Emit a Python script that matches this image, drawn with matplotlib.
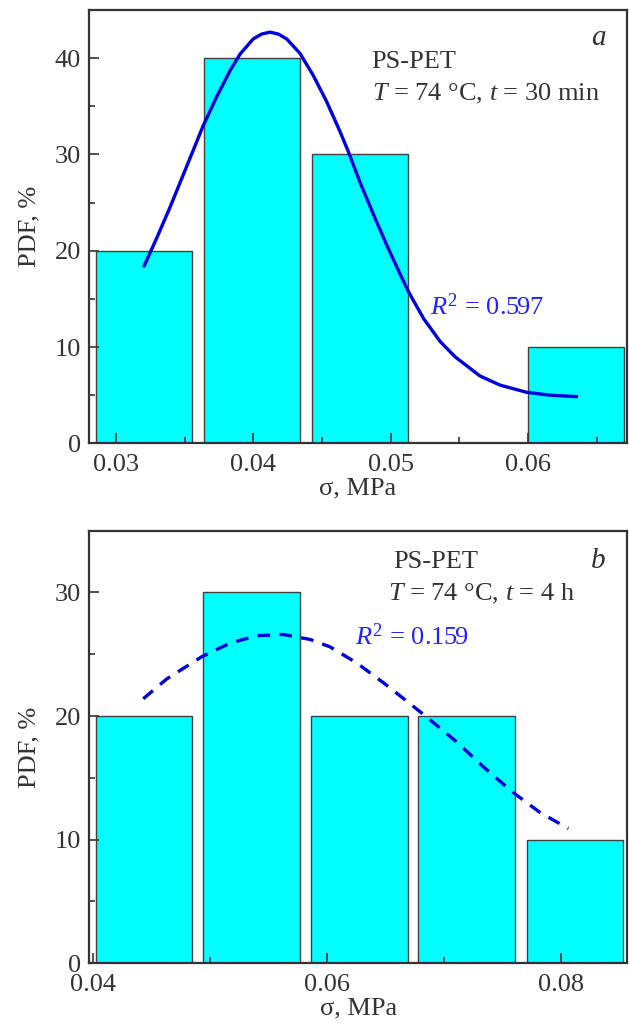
import numpy as np
import matplotlib
matplotlib.use('Agg')
from matplotlib import pyplot as plt
from matplotlib.ticker import MultipleLocator, FormatStrFormatter

plt.rcParams['font.family'] = 'Liberation Serif'
plt.rcParams['mathtext.fontset'] = 'custom'
plt.rcParams['mathtext.rm'] = 'Liberation Serif'
plt.rcParams['mathtext.it'] = 'Liberation Serif:italic'

# panel a: T = 74 C, t = 30 min
a_centers = [0.03204, 0.03990, 0.04776, 0.05562, 0.06348]
a_pdf = [20, 40, 30, 0, 10]
a_width = 0.00703
# fitted curve
a_fit_x = [0.03204, 0.03296, 0.03393, 0.03490, 0.03587, 0.03635, 0.03733, 0.03830,
           0.03902, 0.03999, 0.04060, 0.04121, 0.04182, 0.04242, 0.04339, 0.04436,
           0.04533, 0.04630, 0.04691, 0.04776, 0.04873, 0.04970, 0.05067, 0.05127,
           0.05237, 0.05358, 0.05467, 0.05649, 0.05795, 0.05989, 0.06159, 0.06353]
a_fit_y = [18.4, 21.3, 24.5, 27.9, 31.3, 33.0, 36.0, 38.7,
           40.4, 42.0, 42.5, 42.7, 42.5, 42.0, 40.5, 38.2,
           35.5, 32.4, 30.3, 27.1, 23.8, 20.6, 17.6, 15.8,
           13.0, 10.6, 9.0, 7.0, 6.05, 5.3, 5.0, 4.85]

# panel b: T = 74 C, t = 4 h
b_centers = [0.04438, 0.05359, 0.06282, 0.07197, 0.08122]
b_pdf = [20, 30, 20, 20, 10]
b_width = 0.00826
b_fit_x = [0.04432, 0.04632, 0.04832, 0.04932, 0.05174, 0.05402, 0.05629, 0.05857,
           0.06028, 0.06256, 0.06484, 0.06712, 0.06883, 0.07111, 0.07338, 0.07595,
           0.07823, 0.08065]
b_fit_y = [21.4, 23.0, 24.2, 24.8, 25.9, 26.5, 26.6, 26.2,
           25.6, 24.3, 22.7, 21.0, 19.7, 17.9, 15.9, 13.8,
           12.2, 10.9]

ink = '#333333'
blue_line = '#0000dd'
blue_text = '#2222ff'
fs = 19

fig = plt.figure(figsize=(6.29, 10.32), dpi=100, facecolor='w')
ax1 = fig.add_axes([0.142, 0.5704, 0.8543, 0.4199])
ax2 = fig.add_axes([0.142, 0.0666, 0.8553, 0.4192])


def style_axes(ax, xlim, ylim, xmaj, xmin, ymaj, ymin, xfmt):
    ax.set_xlim(*xlim)
    ax.set_ylim(*ylim)
    ax.xaxis.set_major_locator(MultipleLocator(xmaj))
    ax.xaxis.set_minor_locator(MultipleLocator(xmin))
    ax.yaxis.set_major_locator(MultipleLocator(ymaj))
    ax.yaxis.set_minor_locator(MultipleLocator(ymin))
    ax.xaxis.set_major_formatter(FormatStrFormatter(xfmt))
    ax.tick_params(which='both', direction='in', top=False, right=False,
                   color=ink, width=1.2, labelsize=fs, labelcolor=ink, pad=6)
    ax.tick_params(axis='x', which='both', pad=8)
    ax.tick_params(which='major', length=7.5)
    ax.tick_params(which='minor', length=4.5)
    for s in ax.spines.values():
        s.set_color(ink)
        s.set_linewidth(1.6)
    ax.set_xlabel('σ, MPa', fontsize=fs, color=ink, labelpad=1)
    ax.set_ylabel('PDF, %', fontsize=fs, color=ink, labelpad=10)


# top panel
ax1.bar(a_centers, a_pdf, width=a_width, color='#00ffff', edgecolor='#404040',
        linewidth=1.0, zorder=1)
ax1.plot(a_fit_x, a_fit_y, color=blue_line, lw=2.4, zorder=3,
         solid_capstyle='round', solid_joinstyle='round')
style_axes(ax1, (0.02806, 0.06717), (0, 45), 0.01, 0.005, 10, 5, '%.2f')
ax1.text(0.5255, 0.8654, 'PS-PET', transform=ax1.transAxes, fontsize=fs, color=ink)
ax1.text(0.5255, 0.7923, r'$T$ = 74 °C, $t$ = 30 min', transform=ax1.transAxes,
         fontsize=fs, color=ink)
ax1.text(0.9615, 0.9192, 'a', transform=ax1.transAxes, fontsize=fs + 2, color=ink,
         style='italic', ha='right')
ax1.text(0.634, 0.2961, r'$R^2$ = 0.597', transform=ax1.transAxes, fontsize=fs,
         color=blue_text)

# bottom panel
ax2.bar(b_centers, b_pdf, width=b_width, color='#00ffff', edgecolor='#404040',
        linewidth=1.0, zorder=1)
ax2.plot(b_fit_x, b_fit_y, color=blue_line, lw=2.4, zorder=3,
         linestyle=(0, (3.8, 2.8)), dash_joinstyle='round')
style_axes(ax2, (0.03971, 0.08569), (0, 35), 0.02, 0.01, 10, 5, '%.2f')
ax2.text(0.564, 0.913, 'PS-PET', transform=ax2.transAxes, fontsize=fs, color=ink)
ax2.text(0.555, 0.8398, r'$T$ = 74 °C, $t$ = 4 h', transform=ax2.transAxes,
         fontsize=fs, color=ink)
ax2.text(0.9604, 0.913, 'b', transform=ax2.transAxes, fontsize=fs + 2, color=ink,
         style='italic', ha='right')
ax2.text(0.4939, 0.7358, r'$R^2$ = 0.159', transform=ax2.transAxes, fontsize=fs,
         color=blue_text)

fig.savefig('out.png', dpi=100)
